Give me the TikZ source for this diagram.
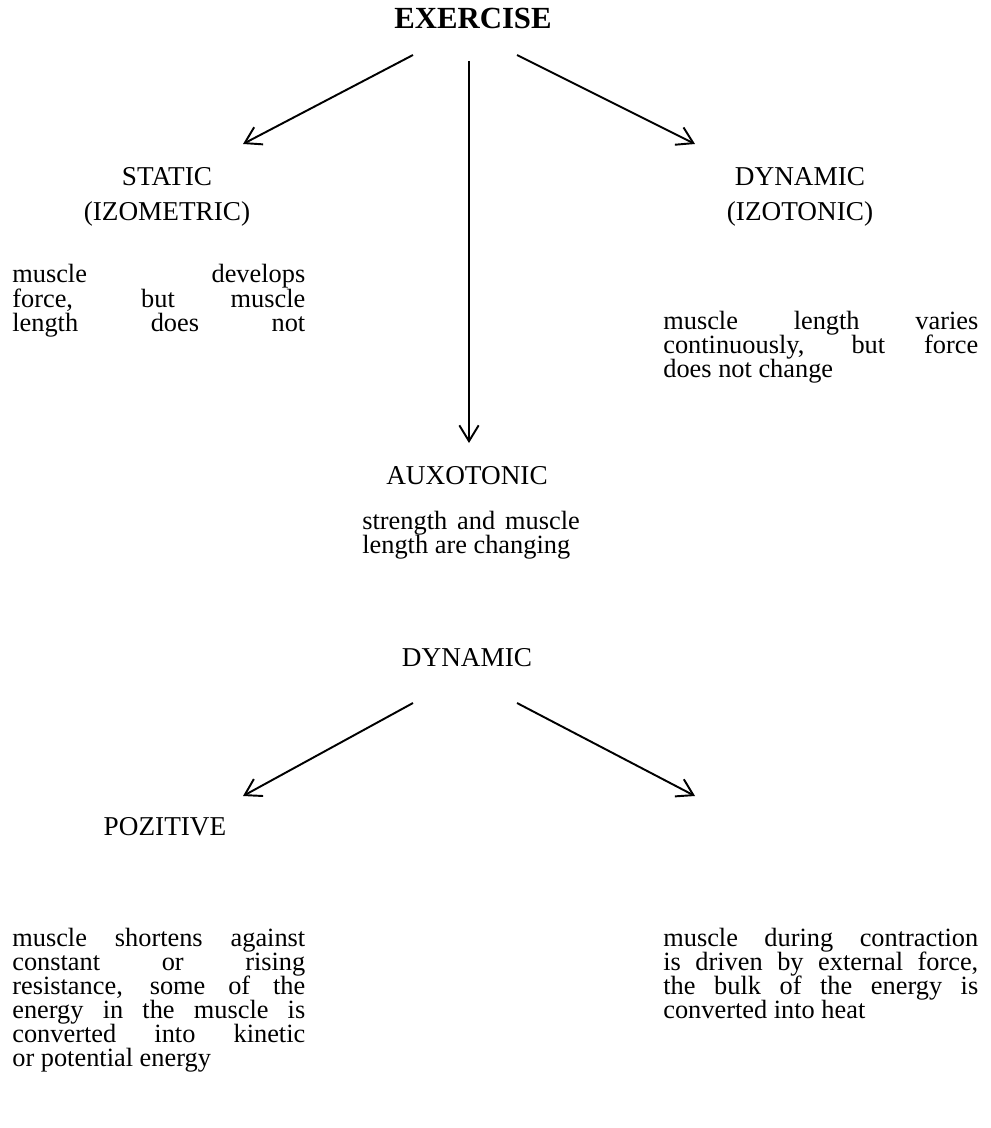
\documentclass[tikz,border=0pt]{standalone}
\usepackage{fontspec}
\setmainfont{Liberation Serif}
\usetikzlibrary{arrows.meta}
\newcommand{\bodyfont}{\fontsize{15}{13.7}\selectfont\lineskiplimit -20pt\tolerance 10000\hyphenpenalty 10000\relax}

\begin{document}
\begin{tikzpicture}[x=0.02cm,y=-0.02cm,
    every node/.style={inner sep=0pt,font=\bodyfont},
    head/.style={anchor=base,font=\fontsize{15.5}{13.7}\selectfont},
    para/.style={anchor=base west,align=justify},
    link/.style={line width=1.1pt,-{Straight Barb[length=9pt,width=11pt]}}]
  \useasboundingbox (0,0) rectangle (990,1128);
  % headings
  \node[head,font=\fontsize{17.5}{15}\selectfont\bfseries] (exercise) at (473,29) {EXERCISE};
  \node[head] (static) at (167,186) {STATIC};
  \node[head] (izometric) at (167,221) {(IZOMETRIC)};
  \node[head] (dynamic) at (800,186) {DYNAMIC};
  \node[head] (izotonic) at (800,221) {(IZOTONIC)};
  \node[head] (auxotonic) at (467,484) {AUXOTONIC};
  \node[head] (dynamic2) at (467,666) {DYNAMIC};
  \node[head] (pozitive) at (165,835) {POZITIVE};
  % texts
  \node[para,text width=5.86cm] (statictxt) at (12,283)
    {muscle develops\linebreak force, but muscle\linebreak length\hfill does\hfill not};
  \node[para,text width=6.3cm] (dynamictxt) at (663,329)
    {muscle length varies\linebreak continuously, but force\linebreak does not change};
  \node[para,text width=4.35cm] (auxotxt) at (362,529)
    {strength and muscle\linebreak length are changing};
  \node[para,text width=5.86cm] (pozitivetxt) at (12,946)
    {muscle shortens against\linebreak constant or rising\linebreak
     resistance, some of the\linebreak energy in the muscle is\linebreak
     converted into kinetic\linebreak or potential energy};
  \node[para,text width=6.3cm] (negativetxt) at (663,946)
    {muscle during contraction\linebreak is driven by external force,\linebreak
     the bulk of the energy is\linebreak converted into heat};
  % arrows
  \coordinate (ex-l) at (413,55);
  \coordinate (ex-m) at (469,61);
  \coordinate (ex-r) at (517,55);
  \coordinate (st-t) at (243,144);
  \coordinate (au-t) at (469,443);
  \coordinate (dy-t) at (695,144);
  \coordinate (dn-l) at (413,703);
  \coordinate (dn-r) at (517,703);
  \coordinate (po-t) at (243,796);
  \coordinate (ne-t) at (695,796);
  \draw[link] (ex-l) -- (st-t);
  \draw[link] (ex-m) -- (au-t);
  \draw[link] (ex-r) -- (dy-t);
  \draw[link] (dn-l) -- (po-t);
  \draw[link] (dn-r) -- (ne-t);
\end{tikzpicture}
\end{document}
